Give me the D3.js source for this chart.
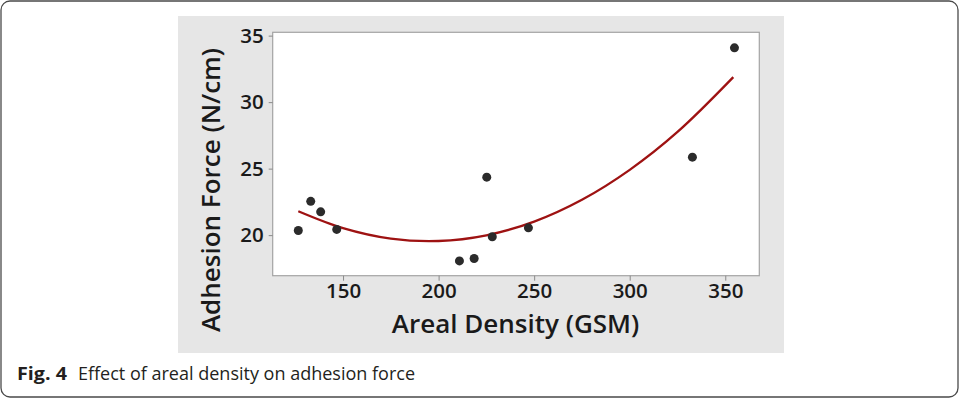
<!DOCTYPE html>
<html>
<head>
<meta charset="utf-8">
<script src="https://cdn.jsdelivr.net/npm/d3@7"></script>
<style>
  html, body { margin: 0; padding: 0; background: #fff; }
  svg { display: block; }
</style>
</head>
<body>
<div id="chart"></div>
<script>
// measured points (areal density GSM, adhesion force N/cm)
const density = [126.6, 133.1, 138.3, 146.7, 210.9, 218.6, 225.2, 228.1, 247.0, 332.8, 354.8];
const force = [20.35, 22.54, 21.75, 20.43, 18.06, 18.24, 24.36, 19.88, 20.55, 25.86, 34.08];

// fitted curve
const fitX = [126.6, 150, 175, 200, 225, 250, 275, 300, 325, 354.2];
const fitY = [21.8, 20.53, 19.74, 19.56, 19.99, 21.02, 22.66, 24.91, 27.76, 31.88];

const xTicks = [150, 200, 250, 300, 350];
const yTicks = [20, 25, 30, 35];

const width = 959;
const height = 399;

const svg = d3.select('#chart').append('svg').attr('width', width).attr('height', height);

// outer figure frame
svg
  .append('rect')
  .attr('x', 1)
  .attr('y', 1)
  .attr('width', width - 2)
  .attr('height', height - 3)
  .attr('rx', 9)
  .attr('fill', 'none')
  .attr('stroke', '#4a4a4a')
  .attr('stroke-width', 1.3);

// grey figure panel
svg
  .append('rect')
  .attr('x', 178)
  .attr('y', 16)
  .attr('width', 606)
  .attr('height', 337)
  .attr('fill', '#e6e6e6');

const plot = { left: 272.7, right: 759.3, top: 32.3, bottom: 275.7 };

const x = d3.scaleLinear().domain([113.2, 367.8]).range([plot.left, plot.right]);
const y = d3.scaleLinear().domain([16.95, 35.25]).range([plot.bottom, plot.top]);

svg
  .append('rect')
  .attr('x', plot.left)
  .attr('y', plot.top)
  .attr('width', plot.right - plot.left)
  .attr('height', plot.bottom - plot.top)
  .attr('fill', '#fff')
  .attr('stroke', '#a3a3a3')
  .attr('stroke-width', 1.2);

const tickFont = "'Open Sans', sans-serif";

// x axis
const xAxis = svg
  .append('g')
  .attr('transform', `translate(0, ${plot.bottom})`)
  .call(d3.axisBottom(x).tickValues(xTicks).tickSize(5).tickPadding(3).tickSizeOuter(0));
xAxis.select('.domain').remove();
xAxis.selectAll('line').attr('stroke', '#8a8a8a');
xAxis
  .selectAll('text')
  .attr('fill', '#1a1a1a')
  .style('font-family', tickFont)
  .style('font-size', '20.5px')
  .style('font-weight', 600);

// y axis
const yAxis = svg
  .append('g')
  .attr('transform', `translate(${plot.left}, 0)`)
  .call(d3.axisLeft(y).tickValues(yTicks).tickSize(4).tickPadding(5).tickSizeOuter(0));
yAxis.select('.domain').remove();
yAxis.selectAll('line').attr('stroke', '#8a8a8a');
yAxis
  .selectAll('text')
  .attr('fill', '#1a1a1a')
  .style('font-family', tickFont)
  .style('font-size', '20.5px')
  .style('font-weight', 600);

// axis titles
svg
  .append('text')
  .text('Areal Density (GSM)')
  .attr('x', 515.5)
  .attr('y', 333)
  .attr('text-anchor', 'middle')
  .attr('fill', '#1a1a1a')
  .style('font-family', tickFont)
  .style('font-size', '26px')
  .style('font-weight', 600);

svg
  .append('text')
  .text('Adhesion Force (N/cm)')
  .attr('transform', 'translate(220, 190) rotate(-90)')
  .attr('text-anchor', 'middle')
  .attr('fill', '#1a1a1a')
  .style('font-family', tickFont)
  .style('font-size', '26px')
  .style('font-weight', 600);

// fitted curve
const fit = fitX.map((d, i) => ({ x: d, y: fitY[i] }));
const line = d3
  .line()
  .x((d) => x(d.x))
  .y((d) => y(d.y))
  .curve(d3.curveCatmullRom);

svg
  .append('path')
  .datum(fit)
  .attr('d', line)
  .attr('fill', 'none')
  .attr('stroke', '#9e1212')
  .attr('stroke-width', 2.3);

// points
svg
  .append('g')
  .attr('fill', '#2b2b2b')
  .selectAll('circle')
  .data(density)
  .enter()
  .append('circle')
  .attr('cx', (d) => x(d))
  .attr('cy', (d, i) => y(force[i]))
  .attr('r', 4.5);

// caption
const caption = svg
  .append('g')
  .attr('fill', '#231f20')
  .style('font-family', "'Open Sans', sans-serif")
  .style('font-size', '18.5px');
caption
  .append('text')
  .text('Fig. 4')
  .attr('x', 17)
  .attr('y', 380)
  .attr('textLength', 50)
  .attr('lengthAdjust', 'spacingAndGlyphs')
  .style('font-weight', 700);
caption
  .append('text')
  .text('Effect of areal density on adhesion force')
  .attr('x', 78)
  .attr('y', 380)
  .attr('textLength', 337)
  .attr('lengthAdjust', 'spacingAndGlyphs');
</script>
</body>
</html>
